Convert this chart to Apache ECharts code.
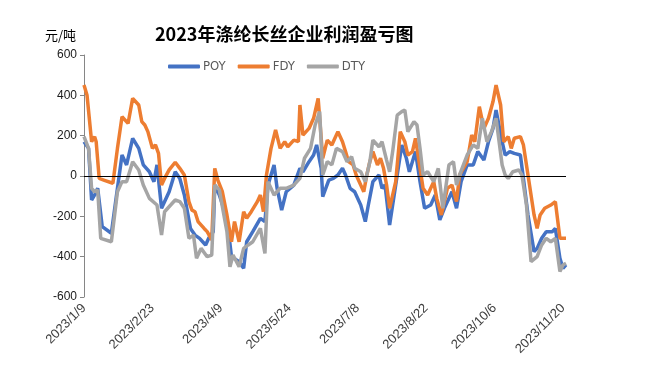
<!DOCTYPE html>
<html>
<head>
<meta charset="utf-8">
<script src="https://cdn.jsdelivr.net/npm/echarts@6/dist/echarts.min.js"></script>
<style>
  html,body{margin:0;padding:0;background:#fff;}
  #chart{width:647px;height:378px;}
</style>
</head>
<body>
<div id="chart"></div>
<script>
  // x = days since 2023/1/9
  var poyDays = [0,3,5,7,9,12,18,22,25,28,32,36,39,43,46,48,51,56,60,63,66,70,73,76,80,82,85,86,89,94,
    97,102,105,107,111,116,119,121,125,127,130,133,138,142,144,148,151,153,156,157,161,164,167,170,172,175,178,182,185,187,
    190,194,196,198,201,205,209,212,214,218,221,224,228,231,234,237,242,245,248,252,256,259,263,266,269,271,275,277,280,283,
    287,289,292,296,298,301,304,308,310,313,315,317];
  var poyVals = [170,137,-119,-94,-61,-251,-284,-61,104,55,187,137,55,21,-28,55,-160,-78,21,-12,-94,-260,-293,-309,-342,-309,-276,-45,-94,-210,
    -400,-425,-458,-326,-276,-210,-226,-45,55,-61,-169,-78,-45,38,21,71,104,154,38,-102,-20,-12,5,38,5,-61,-78,-144,-226,-144,
    -28,5,-61,-45,-243,-45,154,88,21,121,-28,-160,-144,-94,-218,-160,-78,-160,-28,55,55,121,79,170,236,327,170,104,121,112,
    104,-12,-193,-375,-359,-309,-276,-276,-260,-408,-458,-441];

  var fdyDays = [0,2,5,7,8,10,13,19,22,25,29,32,36,38,40,42,45,47,49,51,53,56,60,63,66,69,71,73,75,79,
    81,84,86,88,91,94,97,99,102,105,107,110,114,116,118,120,123,126,129,132,134,138,141,142,144,148,151,154,157,160,
    163,165,167,170,172,174,177,179,182,184,186,188,190,193,195,197,199,201,205,208,211,213,216,218,221,223,226,230,232,235,
    239,242,245,247,252,255,257,260,263,266,269,271,274,276,279,281,283,287,289,292,296,298,300,303,307,310,313,317];
  var fdyVals = [451,400,170,195,170,-12,-20,-36,137,294,261,385,352,270,253,220,137,154,112,-45,-12,30,68,38,5,-127,-169,-177,-226,-260,
    -276,-317,38,-20,-78,-193,-326,-226,-326,-177,-210,-177,-127,-94,-177,5,137,228,137,170,145,178,170,352,203,236,286,385,88,178,
    154,187,220,170,121,71,55,5,-45,-78,5,71,121,55,88,38,-45,-160,-28,220,170,104,121,187,38,-61,-94,-28,-111,-193,
    -61,-45,-127,5,71,203,170,344,236,286,369,451,352,170,195,137,187,195,154,5,-193,-260,-193,-160,-144,-127,-309,-309];

  var dtyDays = [0,3,5,7,9,11,18,22,25,28,32,36,39,43,48,51,53,57,60,63,66,69,72,74,77,81,84,86,89,94,
    96,98,102,105,108,111,116,119,121,125,129,133,138,142,145,149,152,155,157,160,163,166,170,173,176,178,182,185,188,190,
    194,196,199,201,203,206,209,211,213,217,219,221,223,226,230,233,236,240,243,245,247,252,256,259,262,265,268,271,275,277,
    279,282,286,288,291,294,298,301,304,307,310,313,315,317];
  var dtyVals = [195,137,-61,-78,-69,-309,-326,-78,-28,-28,71,30,-45,-111,-144,-293,-177,-144,-119,-127,-160,-309,-293,-408,-359,-400,-392,-45,-69,-276,
    -450,-392,-450,-359,-342,-326,-260,-384,-28,-94,-61,-61,-45,-12,88,137,253,319,5,71,55,137,121,71,96,38,21,-28,71,178,
    145,170,79,21,121,302,319,327,220,269,253,137,5,21,-28,38,-160,55,71,-45,5,104,154,137,286,170,220,286,55,5,
    -12,21,30,5,-144,-425,-400,-342,-309,-326,-309,-474,-441,-433];

  var seriesNames = ['POY','FDY','DTY'];
  var yTicks = [-600,-400,-200,0,200,400,600];

  function pairs(days, vals){
    return days.map(function(d,i){ return [d, vals[i]]; });
  }
  function dayLabel(v){
    var d = new Date(2023, 0, 9 + v);
    return d.getFullYear() + '/' + (d.getMonth()+1) + '/' + d.getDate();
  }

  var chart = echarts.init(document.getElementById('chart'));
  var narrow = '"Liberation Sans Narrow","DejaVu Sans Condensed","Liberation Sans",Arial,sans-serif';
  chart.setOption({
    animation:false,
    backgroundColor:'#fff',
    title:{
      text:'2023年涤纶长丝企业利润盈亏图',
      left:150,
      top:20,
      textStyle:{fontFamily:'"Noto Sans CJK SC",sans-serif',fontSize:18,fontWeight:'bold',color:'#000'}
    },
    graphic:[{
      type:'text', left:45, top:29,
      style:{text:'元/吨',font:'13px "Noto Sans CJK SC",sans-serif',fill:'#000'}
    }],
    legend:{
      data:seriesNames,
      left:163,
      top:55,
      icon:'roundRect',
      itemWidth:32,
      itemHeight:4,
      itemGap:12,
      textStyle:{color:'#595959',fontSize:13,fontFamily:narrow,padding:[0,0,0,-2]}
    },
    grid:{left:84,right:81,top:55,bottom:81,containLabel:false,outerBoundsMode:'none'},
    xAxis:{
      type:'value',
      position:'bottom',
      min:0,
      max:317,
      interval:45,
      axisLine:{show:false,onZero:false},
      axisTick:{show:false},
      splitLine:{show:false},
      axisLabel:{
        rotate:45,
        margin:9,
        showMaxLabel:false,
        color:'#404040',
        fontSize:13,
        fontFamily:'"Liberation Sans",Arial,sans-serif',
        formatter:dayLabel
      }
    },
    yAxis:{
      type:'value',
      min:yTicks[0],
      max:yTicks[yTicks.length-1],
      interval:200,
      axisLine:{show:true,lineStyle:{color:'#868686'}},
      axisTick:{show:true,length:4,lineStyle:{color:'#868686'}},
      splitLine:{show:false},
      axisLabel:{color:'#1a1a1a',fontSize:12,margin:7,fontFamily:'"Liberation Sans",Arial,sans-serif'}
    },
    series:[
      {name:'POY',type:'line',symbol:'none',data:pairs(poyDays,poyVals),
        lineStyle:{color:'#4472C4',width:3.5},itemStyle:{color:'#4472C4'},
        markLine:{
          silent:true,symbol:'none',label:{show:false},
          lineStyle:{color:'#000',width:1.2,type:'solid'},
          data:[{yAxis:0}]
        }},
      {name:'FDY',type:'line',symbol:'none',data:pairs(fdyDays,fdyVals),
        lineStyle:{color:'#ED7D31',width:3.5},itemStyle:{color:'#ED7D31'}},
      {name:'DTY',type:'line',symbol:'none',data:pairs(dtyDays,dtyVals),
        lineStyle:{color:'#A5A5A5',width:3.5},itemStyle:{color:'#A5A5A5'}}
    ]
  });
</script>
</body>
</html>
